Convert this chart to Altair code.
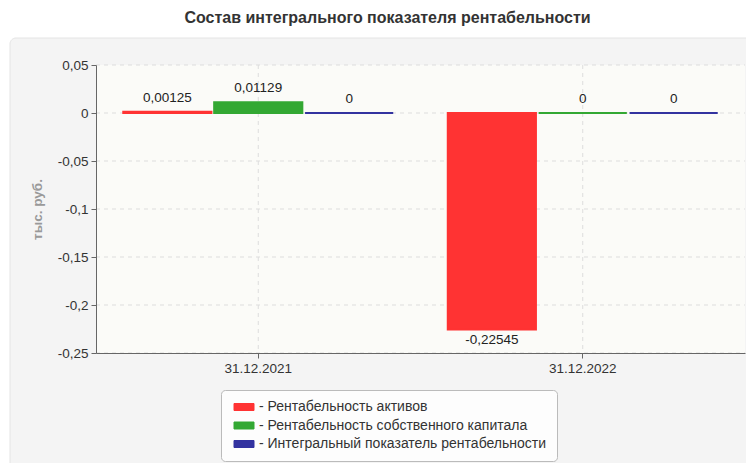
import altair as alt
import pandas as pd

dates = ["31.12.2021", "31.12.2022"]
series = ["Рентабельность активов", "Рентабельность собственного капитала", "Интегральный показатель рентабельности"]
colors = ["#ff3333", "#33a833", "#3333a0"]
values_2021 = [0.00125, 0.01129, 0.0]
values_2022 = [-0.22545, 0.0, 0.0]
y_ticks = [0.05, 0, -0.05, -0.1, -0.15, -0.2, -0.25]

rows = []
for d, vals in zip(dates, [values_2021, values_2022]):
    for s, v in zip(series, vals):
        rows.append({"date": d, "series": s, "value": v})
df = pd.DataFrame(rows)
grid_df = pd.DataFrame({"value": y_ticks})
date_df = pd.DataFrame({"date": dates})
dummy = pd.DataFrame({"a": [0]})

W, H = 649, 288
FS = 13.5
yscale = alt.Scale(domain=[-0.25, 0.05], nice=False, zero=False)
xscale = alt.Scale(domain=dates, paddingInner=0, paddingOuter=0)
yaxis = alt.Axis(values=y_ticks, labelExpr="replace(toString(datum.value), '.', ',')",
                 title="тыс. руб.", titleColor="#999", titleFontSize=13.5, titleFontWeight="bold",
                 titleX=-59, titleY=H / 2, titleAngle=-90, titleBaseline="middle", titleAlign="center",
                 tickSize=5, domainColor="#666", tickColor="#666", labelColor="#333",
                 labelFontSize=FS, labelPadding=3, grid=False, zindex=2)
xaxis = alt.Axis(title=None, labelAngle=0, tickSize=5, domainColor="#666", tickColor="#666",
                 labelColor="#333", labelFontSize=FS, labelPadding=3, grid=False, zindex=2)

panel = alt.Chart(dummy).mark_rect(fill="#f4f4f4", stroke="#e4e4e4", cornerRadius=6).encode(
    x=alt.value(-86), x2=alt.value(700), y=alt.value(-27), y2=alt.value(430))
plotbg = alt.Chart(dummy).mark_rect(fill="#fbfbf8").encode(
    x=alt.value(0), x2=alt.value(W), y=alt.value(0), y2=alt.value(H))
ygrid = alt.Chart(grid_df).mark_rule(color="#dddddd", strokeDash=[4, 4]).encode(
    y=alt.Y("value:Q", scale=yscale, axis=yaxis), x=alt.value(0), x2=alt.value(W))
xgrid = alt.Chart(date_df).mark_rule(color="#dddddd", strokeDash=[4, 4]).encode(
    x=alt.X("date:N", scale=xscale, axis=xaxis, sort=dates), y=alt.value(0), y2=alt.value(H))

base = alt.Chart(df).transform_calculate(
    label="replace(toString(datum.value), '.', ',')")

bars = base.mark_bar(strokeWidth=2).encode(
    x=alt.X("date:N", scale=xscale, axis=xaxis, sort=dates),
    xOffset=alt.XOffset("series:N", sort=series,
                        scale=alt.Scale(domain=series, paddingInner=0.03, paddingOuter=0.3)),
    y=alt.Y("value:Q", scale=yscale, axis=yaxis),
    y2=alt.datum(0),
    color=alt.Color("series:N", sort=series, scale=alt.Scale(domain=series, range=colors),
                    legend=alt.Legend(title=None, orient="none", legendX=125, legendY=325,
                                      direction="vertical", labelExpr="'- ' + datum.label")),
    stroke=alt.Stroke("series:N", sort=series, scale=alt.Scale(domain=series, range=colors), legend=None),
)

lab_pos = base.transform_filter("datum.value >= 0").mark_text(
    baseline="bottom", dy=-7, fontSize=FS, color="#222").encode(
    x=alt.X("date:N", scale=xscale, sort=dates),
    xOffset=alt.XOffset("series:N", sort=series),
    y=alt.Y("value:Q", scale=yscale),
    text="label:N")
lab_neg = base.transform_filter("datum.value < 0").mark_text(
    baseline="top", dy=4, fontSize=FS, color="#222").encode(
    x=alt.X("date:N", scale=xscale, sort=dates),
    xOffset=alt.XOffset("series:N", sort=series),
    y=alt.Y("value:Q", scale=yscale),
    text="label:N")

chart = alt.layer(panel, plotbg, ygrid, xgrid, bars, lab_pos, lab_neg).properties(
    width=W, height=H,
    title=alt.TitleParams("Состав интегрального показателя рентабельности", fontSize=16,
                          fontWeight="bold", color="#333", anchor="middle", dx=-33,
                          baseline="middle", offset=4),
    padding={"left": 88, "top": 57, "right": 1, "bottom": 110},
    autosize=alt.AutoSizeParams(type="none"),
).configure(font="Liberation Sans", background="white").configure_view(stroke=None).configure_legend(
    padding=10, fillColor="#fdfdfd", strokeColor="#bbbbbb", cornerRadius=4,
    labelFontSize=14, labelColor="#333", labelLimit=400,
    symbolType="M-2,-0.7L2,-0.7L2,0.7L-2,0.7Z", symbolSize=100, symbolStrokeWidth=1,
    symbolStrokeColor="#999", rowPadding=4.5, symbolOffset=6, labelOffset=8,
)

chart.save("out.html", embed_options={"renderer": "svg", "actions": False})
